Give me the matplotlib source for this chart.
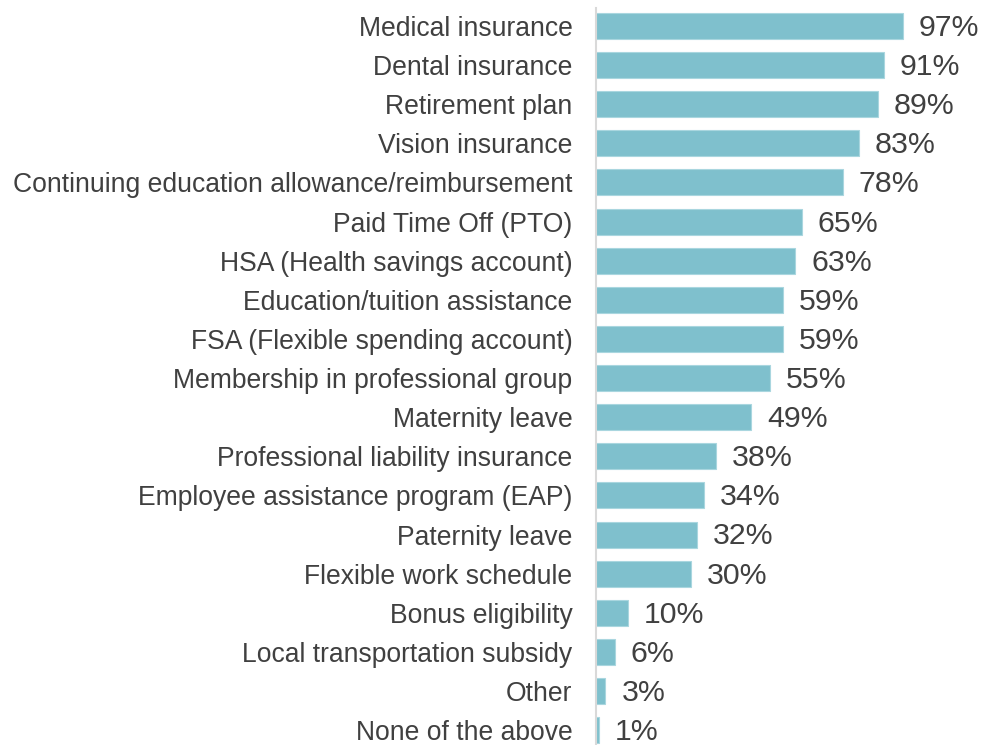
import matplotlib.pyplot as plt

plt.rcParams['font.family'] = ['Liberation Sans', 'DejaVu Sans']

benefits = [
    "Medical insurance",
    "Dental insurance",
    "Retirement plan",
    "Vision insurance",
    "Continuing education allowance/reimbursement",
    "Paid Time Off (PTO)",
    "HSA (Health savings account)",
    "Education/tuition assistance",
    "FSA (Flexible spending account)",
    "Membership in professional group",
    "Maternity leave",
    "Professional liability insurance",
    "Employee assistance program (EAP)",
    "Paternity leave",
    "Flexible work schedule",
    "Bonus eligibility",
    "Local transportation subsidy",
    "Other",
    "None of the above",
]
percent = [97, 91, 89, 83, 78, 65, 63, 59, 59, 55, 49, 38, 34, 32, 30, 10, 6, 3, 1]

bar_color = "#7fc0cd"
text_color = "#404040"

fig = plt.figure(figsize=(9.81, 7.45), dpi=100)
ax = fig.add_axes([596 / 981, 0, 1 - 596 / 981, 737 / 745])

y = list(range(len(benefits)))
ax.barh(y, percent, height=0.665, color=bar_color, edgecolor="#a9d6df", linewidth=0.8)

for yi, v in zip(y, percent):
    ax.text(v + 5, yi + 0.05, f"{v}%", va="center", ha="left", fontsize=21.8, color=text_color)

ax.set_yticks(y)
ax.set_yticklabels(benefits, fontsize=19.1, color=text_color)
ax.tick_params(axis="y", length=0, pad=17)
ax.set_xticks([])
ax.set_xlim(0, 121.6)
ax.set_ylim(18.38, -0.46)

for side in ["top", "right", "bottom"]:
    ax.spines[side].set_visible(False)
ax.spines["left"].set_color("#d9d9d9")
ax.spines["left"].set_linewidth(1.5)

fig.savefig("out.png", dpi=100)
